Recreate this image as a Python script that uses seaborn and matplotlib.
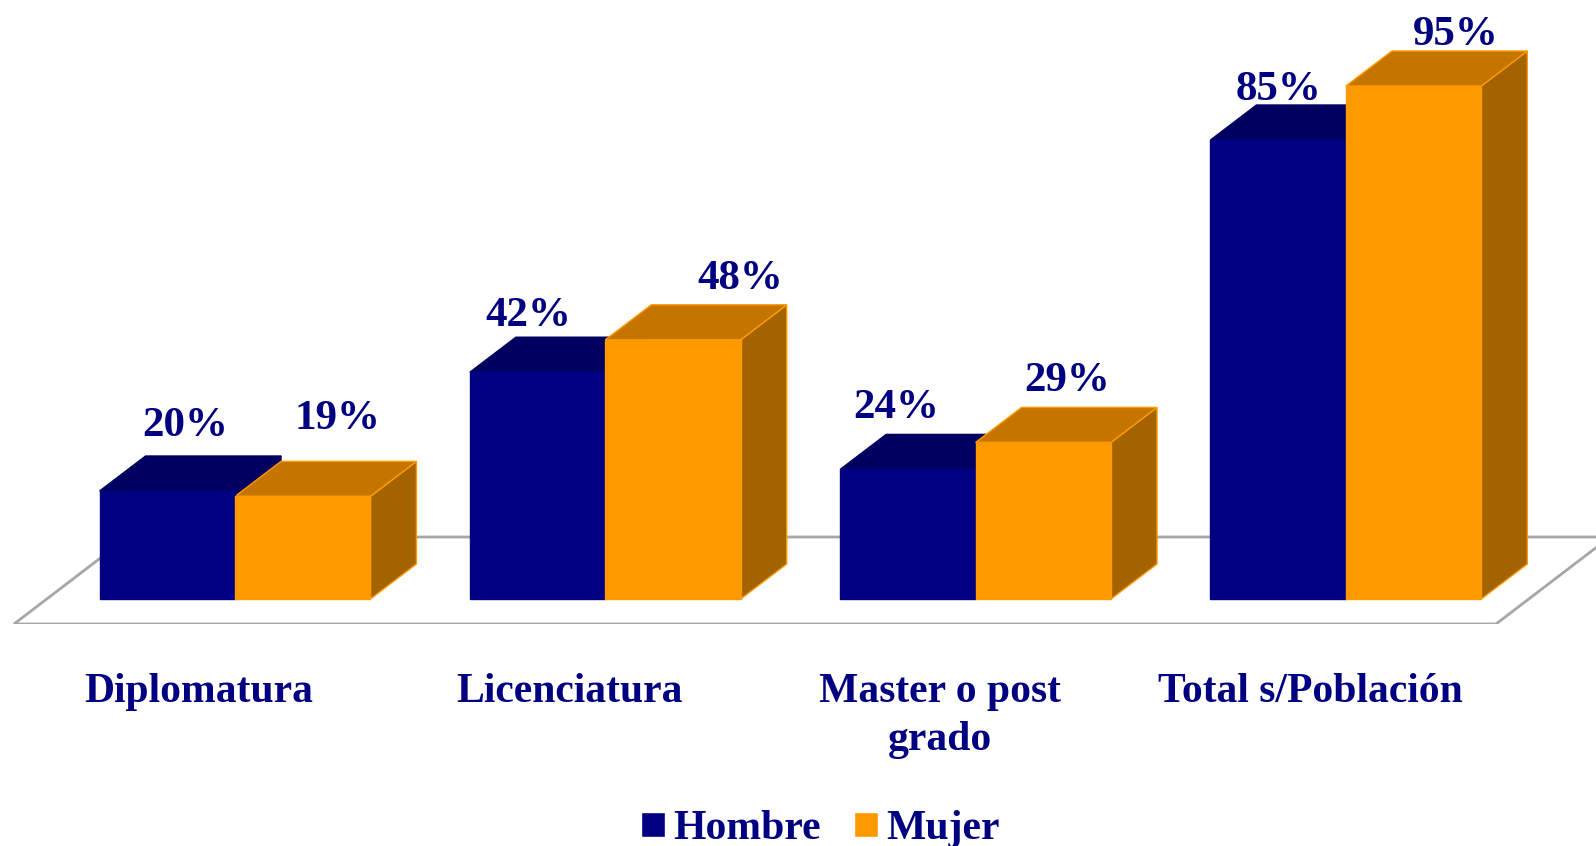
import pandas as pd
import seaborn as sns
import matplotlib.pyplot as plt
from matplotlib.patches import Polygon

niveles = ['Diplomatura', 'Licenciatura', 'Master o post\ngrado', 'Total s/Población']
hombre = [20, 42, 24, 85]
mujer = [19, 48, 29, 95]

# label nudges in pixels, the original labels are not centred on the bars
nudge_x = [18, 35, -9, 67, -12, 24, 0, 42]
nudge_y = [65, 77, 56, 61, 61, 61, 50, 51]

NAVY = '#000080'
ORANGE = '#ff9900'
shades = {NAVY: ('#000060', '#000060'), ORANGE: ('#c47500', '#a36400')}

df = pd.DataFrame({
    'nivel': niveles * 2,
    'sexo': ['Hombre'] * 4 + ['Mujer'] * 4,
    'pct': hombre + mujer,
})

sns.set_theme(style='white')
plt.rcParams['font.family'] = ['Liberation Serif', 'DejaVu Serif']

fig = plt.figure(figsize=(15.96, 8.46), dpi=100)
ax = fig.add_axes([0, 222 / 846, 1, 624 / 846])
sns.barplot(data=df, x='nivel', y='pct', hue='sexo', palette=[NAVY, ORANGE],
            width=0.7314, gap=0, saturation=1, ax=ax, zorder=5)

# 370.3 px per category, 5.4 px per percent, baseline at y=599
px_x = 1 / 370.3
px_y = 1 / 5.4
ax.set_xlim(-235 * px_x, (1596 - 235) * px_x)
ax.set_ylim(-25 * px_y, 599 * px_y)
dx = 46 * px_x
dy = 35 * px_y

# floor of the 3d chart
fy = -25 * px_y
ax.add_patch(Polygon([(-221 * px_x, fy), (1261 * px_x, fy), (1375 * px_x, 62 * px_y),
                      (-107 * px_x, 62 * px_y)], closed=True, fc='white', ec='#a6a6a6',
                     lw=2, zorder=1))

# fake depth: top and side faces behind every bar
bars = []
for cont, col in zip(ax.containers, [NAVY, ORANGE]):
    for p in cont:
        bars.append((p, col))
bars = [bars[i] for i in (0, 4, 1, 5, 2, 6, 3, 7)]

for n, (p, col) in enumerate(bars):
    x0, w, h = p.get_x(), p.get_width(), p.get_height()
    x1 = x0 + w
    top, side = shades[col]
    edge = ORANGE if col == ORANGE else top
    z = 3 if col == ORANGE else 2
    ax.add_patch(Polygon([(x1, 0), (x1 + dx, dy), (x1 + dx, h + dy), (x1, h)],
                         closed=True, fc=side, ec=edge, lw=1, zorder=z))
    ax.add_patch(Polygon([(x0, h), (x1, h), (x1 + dx, h + dy), (x0 + dx, h + dy)],
                         closed=True, fc=top, ec=edge, lw=1, zorder=z))
    p.set_edgecolor(col)
    p.set_linewidth(1)
    ax.annotate(f'{h:.0f}%', (x0 + w / 2, h), xytext=(nudge_x[n], nudge_y[n]),
                textcoords='offset pixels', ha='center', va='center',
                color=NAVY, fontsize=31, fontweight='bold', zorder=6)

ax.set_xticks([i - 36 * px_x for i in range(4)])
ax.set_xticklabels(niveles, color=NAVY, fontsize=30, fontweight='bold', linespacing=1.36)
ax.tick_params(axis='x', length=0, pad=35)
ax.set_xlabel('')
ax.set_ylabel('')
ax.set_yticks([])
sns.despine(ax=ax, left=True, bottom=True)

handles, labels = ax.get_legend_handles_labels()
ax.legend_.remove()
fig.legend(handles, labels, loc='lower center', bbox_to_anchor=(0.514, -0.047), ncol=2,
           frameon=False, handlelength=0.57, handleheight=0.57, handletextpad=0.2,
           columnspacing=0.8, prop={'size': 30, 'weight': 'bold'}, labelcolor=NAVY)

fig.savefig('out.png', dpi=100)
